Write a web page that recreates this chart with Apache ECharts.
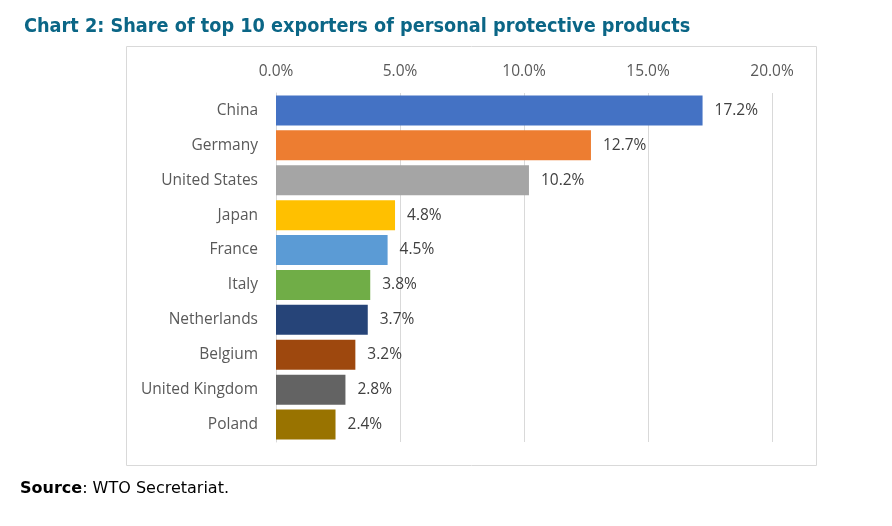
<!DOCTYPE html>
<html><head><meta charset="utf-8">
<script src="https://cdn.jsdelivr.net/npm/echarts@6/dist/echarts.min.js"></script>
<style>html,body{margin:0;padding:0;background:#fff;}#c{width:892px;height:526px;}</style>
</head><body><div id="c"></div>
<script>
const categories = ["China","Germany","United States","Japan","France","Italy","Netherlands","Belgium","United Kingdom","Poland"];
const values = [17.2,12.7,10.2,4.8,4.5,3.8,3.7,3.2,2.8,2.4];
const colors = ["#4472C4","#ED7D31","#A5A5A5","#FFC000","#5B9BD5","#70AD47","#264478","#9E480E","#636363","#997300"];
const tickValues = [0,5,10,15,20];

const chart = echarts.init(document.getElementById('c'), null, {renderer:'canvas'});
const font = "'Open Sans', 'Noto Sans', sans-serif";
chart.setOption({
  animation:false,
  title:{
    text:"Chart 2: Share of top 10 exporters of personal protective products",
    left:19, top:12,
    textStyle:{color:"#0b6686", fontFamily:"'DejaVu Sans Condensed','DejaVu Sans',sans-serif", fontWeight:'bold', fontSize:19.7}
  },
  graphic:[
    {type:'rect', shape:{x:126.5,y:46.5,width:690,height:419}, style:{fill:'none', stroke:'#d9d9d9', lineWidth:1}, z:-1},
    {type:'text', left:20, top:481, style:{text:'{b|Source}: WTO Secretariat.', rich:{b:{fontWeight:'bold', fontFamily:"'DejaVu Sans',sans-serif", fontSize:16, fill:'#000'}}, font:"16px 'DejaVu Sans',sans-serif", fill:'#000'}}
  ],
  grid:{left:276, right:120, top:93, bottom:84},
  xAxis:{
    type:'value', position:'top', min:0, max:20, interval:5,
    axisLine:{show:false}, axisTick:{show:false},
    splitLine:{lineStyle:{color:'#d9d9d9', width:1}},
    axisLabel:{formatter:v=>v.toFixed(1)+'%', color:'#595959', fontSize:15.5, fontFamily:font, margin:13}
  },
  yAxis:{
    type:'category', data:categories, inverse:true,
    axisLine:{show:true, lineStyle:{color:'#d9d9d9'}}, axisTick:{show:false},
    axisLabel:{color:'#595959', fontSize:15.5, fontFamily:font, margin:18}
  },
  series:[{
    type:'bar', barCategoryGap:'14%',
    data:values.map((v,i)=>({value:v, itemStyle:{color:colors[i]}})),
    label:{show:true, position:'right', distance:12, formatter:p=>p.value.toFixed(1)+'%', color:'#404040', fontSize:15.5, fontFamily:font}
  }]
});
</script></body></html>
